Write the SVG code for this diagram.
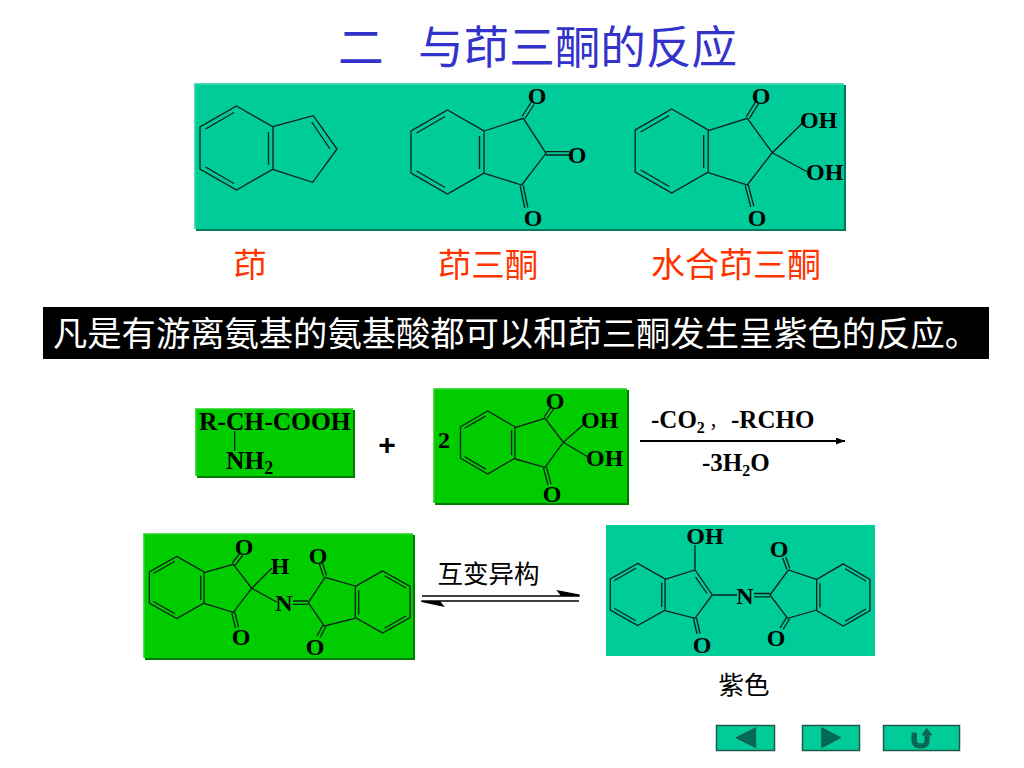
<svg xmlns="http://www.w3.org/2000/svg" width="1024" height="768" viewBox="0 0 1024 768">
<style>
text{font-family:"Liberation Serif","Noto Sans CJK SC",serif;fill:#000}
.chem{font-weight:bold;font-size:24px}
.mid{text-anchor:middle}
.cjk{font-family:"Noto Sans CJK SC","Liberation Sans",sans-serif}
.red{font-size:33.5px}
.b,.b *{fill:none;stroke:#0c1f18;stroke-width:1.3;vector-effect:non-scaling-stroke}
.btn{fill:#00cc99;stroke:#1f5a4a;stroke-width:1.5}
.glyph{fill:#006b55;stroke:#1f5a4a;stroke-width:1}
</style>
<defs>
<g id="benz" class="b">
<polygon points="0,-42 36.5,-21 36.5,21 0,42 -36.5,21 -36.5,-21"/>
<path d="M32,-16V17M-31,-19L-2.5,-35.5M-31,19L-2.5,35.5"/>
</g>
<marker id="ah" markerWidth="10" markerHeight="8" refX="9" refY="3.5" orient="auto" markerUnits="userSpaceOnUse"><path d="M0,0L9,3.5L0,7z" fill="#000"/></marker>
</defs>

<g id="title"><text y="64" font-size="45.6" class="cjk" style="fill:#3333cc"><tspan x="338">二</tspan><tspan x="418">与茚三酮的反应</tspan></text></g>

<g id="panel-top">
<rect x="196" y="85" width="650" height="146" fill="#007a5c"/>
<rect x="194" y="83" width="650" height="146" fill="#00cc99"/>
<path d="M194.7,229V83.7H844" fill="none" stroke="#5ad9bb" stroke-width="1.5"/>
</g>
<g id="indene">
<use href="#benz" transform="translate(236.5,148)"/>
<path class="b" d="M272.7,126.7L313.3,115.7L337,149L312.7,182.3L272.7,169.3M311.7,122L330,149"/>
</g>
<g id="indanetrione">
<use href="#benz" transform="translate(447.5,152)"/>
<path class="b" d="M484.3,131L523.3,118.3L546,153.3L521.7,185L484.3,173.3M522,116.5L531,102.5M525,118.5L534,104.5M546,151.7H569M546,155H569M520.2,186L524.8,208M523.2,185.4L527.8,207.4"/>
<text class="chem mid" x="537" y="104">O</text><text class="chem mid" x="577" y="163">O</text><text class="chem mid" x="533" y="226">O</text>
</g>
<g id="ninhydrin">
<use href="#benz" transform="translate(671.7,151)"/>
<path class="b" d="M708.3,130.7L747.3,118.3L772.3,152.7L747.3,185L708.3,172.7M746.2,116.8L755.8,101.5M749.2,118.6L758.8,103.3M745.2,185.6L750.8,207M748.2,184.8L753.8,206.2M772.3,152.7L802,123.5M772.3,152.7L807,171.7"/>
<text class="chem mid" x="761" y="104">O</text><text class="chem mid" x="757" y="226">O</text>
<text class="chem" x="800" y="128">OH</text><text class="chem" x="806" y="180">OH</text>
</g>
<g id="labels-top">
<text class="cjk red mid" x="250" y="277" style="fill:#ff3300">茚</text>
<text class="cjk red mid" x="488" y="277" style="fill:#ff3300">茚三酮</text>
<text class="cjk red mid" x="736" y="277" style="fill:#ff3300;font-size:34px">水合茚三酮</text>
</g>
<g id="banner">
<rect x="43" y="307" width="946" height="52" fill="#000"/>
<text class="cjk" x="53" y="346" font-size="34.3" style="fill:#fff">凡是有游离氨基的氨基酸都可以和茚三酮发生呈紫色的反应。</text>
</g>

<g id="amino-acid">
<rect x="197" y="410" width="158" height="68" fill="#007a00"/>
<rect x="195" y="408" width="158" height="68" fill="#00cc00"/>
<path d="M195.7,476V408.7H353" fill="none" stroke="#55dd55" stroke-width="1.3"/>
<text class="chem" x="199" y="430" style="font-size:25.5px">R-CH-COOH</text>
<path class="b" d="M234.7,431V451"/>
<text class="chem" x="226" y="469" style="font-size:25.5px">NH<tspan font-size="18" dy="5">2</tspan></text>
</g>
<text id="plus" x="387" y="455" text-anchor="middle" font-size="30" font-weight="bold" style="font-family:'Liberation Sans',sans-serif">+</text>
<g id="ninhydrin-2">
<rect x="435" y="390" width="194" height="115" fill="#007a00"/>
<rect x="433" y="388" width="194" height="115" fill="#00cc00"/>
<path d="M433.7,503V388.7H627" fill="none" stroke="#55dd55" stroke-width="1.3"/>
<use href="#benz" transform="translate(487.7,442.5) scale(.745,.75)"/>
<path class="b" d="M515,427.7L545,418.3L563.3,442.3L545,467.3L515,459M544,417L551,407M547,418.5L554,408.5M543.5,467.8L548,485M546.5,467L551,484.2M563.3,442.3L583,425M563.3,442.3L588,457"/>
<text class="chem" x="438" y="448">2</text>
<text class="chem mid" x="555" y="409">O</text><text class="chem mid" x="552" y="502">O</text>
<text class="chem" x="581" y="428">OH</text><text class="chem" x="586" y="466">OH</text>
</g>

<g id="connectors">
<path d="M640,441H845" stroke="#000" stroke-width="1.8" fill="none" marker-end="url(#ah)"/>
<path d="M422,596H579V595L558,591L562,596M579,601H422V601.5L443,606L439,601" fill="#000" stroke="#000" stroke-width="1.4"/>
</g>
<g id="arrow-labels">
<text class="chem" x="651" y="428" style="font-size:25px">-CO<tspan font-size="16" dy="5">2</tspan></text>
<text class="cjk" x="709" y="428" font-size="18">，</text>
<text class="chem" x="731" y="428" style="font-size:25px">-RCHO</text>
<text class="chem" x="702" y="471" style="font-size:25px">-3H<tspan font-size="16" dy="5">2</tspan><tspan dy="-5">O</tspan></text>
<text class="cjk" x="437.5" y="583" font-size="25.5">互变异构</text>
<text class="cjk" x="718.5" y="694" font-size="25.5">紫色</text>
</g>

<g id="schiff-base">
<rect x="145" y="535" width="270" height="125" fill="#007a00"/>
<rect x="143" y="533" width="270" height="125" fill="#00cc00"/>
<path d="M143.7,658V533.7H413" fill="none" stroke="#55dd55" stroke-width="1.3"/>
<use href="#benz" transform="translate(176.7,587.5) scale(.75,.74)"/>
<use href="#benz" transform="translate(382.7,602) scale(-.75,.74)"/>
<path class="b" d="M204,572.7L233.3,564.3L251.7,588.3L233.3,612.3L204,603.3M232.3,563L239.5,553.5M235.3,565L242.5,555.5M231.8,612.8L235.5,628M234.8,612L238.5,627.2M251.7,588.3L272,568M251.7,588.3L276.7,602M293,601H308.3M293,604.3H308.3M308.3,602.7L325,577.3L355,586M308.3,602.7L324.3,626L355,618.3M323.5,576.5L319.5,564M326.5,575.5L322.5,563M323,625L317,636M326,626.5L320,637.5"/>
<text class="chem mid" x="244" y="555">O</text><text class="chem mid" x="241" y="645">O</text>
<text class="chem mid" x="280" y="574">H</text><text class="chem mid" x="284" y="611">N</text>
<text class="chem mid" x="318" y="564">O</text><text class="chem mid" x="315" y="655">O</text>
</g>

<g id="ruhemann-purple">
<rect x="606" y="525" width="269" height="131" fill="#00cc99"/>
<use href="#benz" transform="translate(637.7,594.5) scale(.75,.74)"/>
<use href="#benz" transform="translate(843.3,595) scale(-.73,.74)"/>
<path class="b" d="M665,579.3L695,570L712.3,595L695,618.3L665,610.7M695.5,577L707,593.5M695,570V545M693.5,618.5L697,634M696.5,618L700,633.5M712.3,595H737M754,593.5H770M754,596.8H770M770,595L788.3,570L816.7,579.3M770,595L787.7,618.3L816.7,610M786.8,569.5L782.8,558M789.8,568.5L785.8,557M786.5,617.5L780,628M789.5,619L783,629.5"/>
<text class="chem mid" x="705" y="544">OH</text>
<text class="chem mid" x="702" y="653">O</text><text class="chem mid" x="745" y="604">N</text>
<text class="chem mid" x="779" y="557">O</text><text class="chem mid" x="776" y="646">O</text>
</g>

<g id="btn-back"><rect class="btn" x="716.5" y="725.5" width="58" height="25"/><polygon class="glyph" points="736,737.7 755.7,727.7 755.7,747.7"/></g>
<g id="btn-next"><rect class="btn" x="802.5" y="725.5" width="57" height="25"/><polygon class="glyph" points="821.7,727.7 840.7,737.7 821.7,747.7"/></g>
<g id="btn-return"><rect class="btn" x="883.5" y="725.5" width="76" height="25"/>
<path class="glyph" d="M912,733H916.5V741Q916.5,744 921.5,744Q925,744 925,741V735H922L926.7,728.5L931.5,735H929V741Q929,748 921.5,748Q912,748 912,741Z"/></g>
</svg>
